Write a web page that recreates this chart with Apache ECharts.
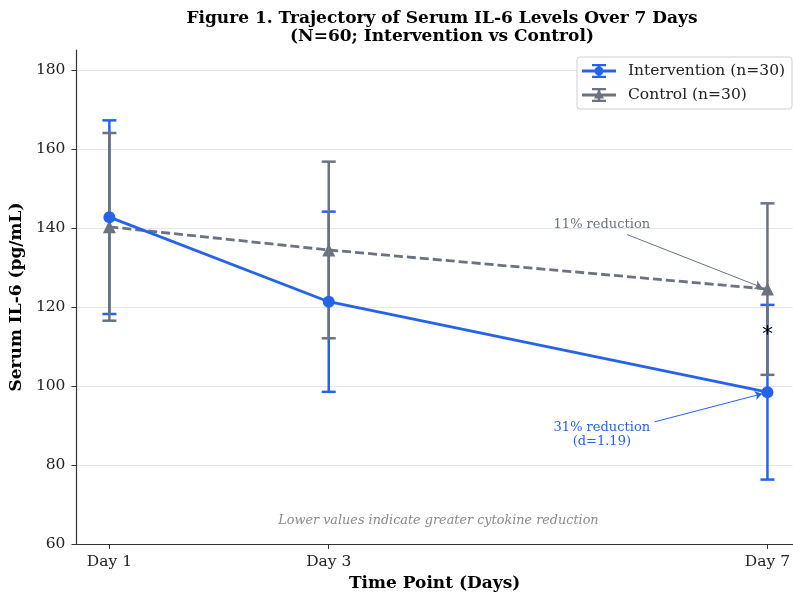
<!DOCTYPE html>
<html>
<head>
<meta charset="utf-8">
<script src="https://cdn.jsdelivr.net/npm/echarts@6/dist/echarts.min.js"></script>
<style>html,body{margin:0;padding:0;background:#fff}#chart{width:793px;height:597px}</style>
</head>
<body>
<div id="chart"></div>
<script>
// ---- data ----
const days = [1, 3, 7];
const dayLabels = ['Day 1', 'Day 3', 'Day 7'];
const yTicks = [60, 80, 100, 120, 140, 160, 180];
const interventionMean = [142.7, 121.3, 98.4];
const interventionSD = [24.5, 22.8, 22.1];
const controlMean = [140.25, 134.4, 124.5];
const controlSD = [23.75, 22.35, 21.7];
const interventionName = 'Intervention (n=30)';
const controlName = 'Control (n=30)';

const BLUE = '#2563eb';
const GRAY = '#6b7280';
const FONT = 'DejaVu Serif';

const pts = (m) => days.map((d, i) => [d, m[i]]);
const bars = (m, s) => days.map((d, i) => [d, m[i] - s[i], m[i] + s[i]]);

function errRender(color) {
  return function (params, api) {
    const x = api.value(0);
    const lo = api.coord([x, api.value(1)]);
    const hi = api.coord([x, api.value(2)]);
    const cw = 7;
    const st = { stroke: color, lineWidth: 2.5 };
    return {
      type: 'group',
      children: [
        { type: 'line', shape: { x1: lo[0], y1: lo[1], x2: hi[0], y2: hi[1] }, style: st },
        { type: 'line', shape: { x1: lo[0] - cw, y1: lo[1], x2: lo[0] + cw, y2: lo[1] }, style: st },
        { type: 'line', shape: { x1: hi[0] - cw, y1: hi[1], x2: hi[0] + cw, y2: hi[1] }, style: st }
      ]
    };
  };
}

const iconBase = 'M0 5.6 H34 V8.4 H0 Z M15.7 0 H18.3 V14 H15.7 Z M10 0 H24 V2.2 H10 Z M10 11.8 H24 V14 H10 Z ';
const iconCircle = 'path://' + iconBase + 'M12.5 7 A4.5 4.5 0 1 1 21.5 7 A4.5 4.5 0 1 1 12.5 7 Z';
const iconTri = 'path://' + iconBase + 'M17 1.5 L22 10.5 L12 10.5 Z';

const chart = echarts.init(document.getElementById('chart'), null, { renderer: 'canvas' });
chart.setOption({
  animation: false,
  backgroundColor: '#ffffff',
  textStyle: { fontFamily: FONT },
  title: {
    text: 'Figure 1. Trajectory of Serum IL-6 Levels Over 7 Days\n(N=60; Intervention vs Control)',
    left: 437, top: 4, textAlign: 'center',
    textStyle: { fontFamily: FONT, fontWeight: 'bold', fontSize: 17, lineHeight: 18.5, color: '#000' }
  },
  legend: {
    orient: 'vertical',
    left: 577, top: 57,
    padding: [6, 7, 6, 5],
    itemGap: 8,
    itemWidth: 34, itemHeight: 14,
    backgroundColor: '#ffffff',
    borderColor: '#cfcfcf', borderWidth: 1, borderRadius: 3,
    itemStyle: { borderWidth: 0 },
    textStyle: { fontFamily: FONT, fontSize: 15.5, color: '#222', lineHeight: 16, padding: [0, 0, 0, 7] },
    data: [
      { name: interventionName, icon: iconCircle, itemStyle: { color: BLUE } },
      { name: controlName, icon: iconTri, itemStyle: { color: GRAY } }
    ]
  },
  grid: { left: 75, right: 0, top: 50, bottom: 51, containLabel: false },
  xAxis: {
    type: 'value', min: 0.7, max: 7.23,
    name: 'Time Point (Days)', nameLocation: 'middle', nameGap: 31,
    nameTextStyle: { fontFamily: FONT, fontWeight: 'bold', fontSize: 17, color: '#000' },
    axisLine: { show: true, lineStyle: { color: '#333', width: 1.2 } },
    axisTick: { show: true, length: 5, lineStyle: { color: '#333' }, customValues: days },
    axisLabel: {
      customValues: days, margin: 10, fontFamily: FONT, fontSize: 15.5, color: '#222',
      formatter: (v) => { const i = days.indexOf(v); return i >= 0 ? dayLabels[i] : ''; }
    },
    splitLine: { show: false }
  },
  yAxis: {
    type: 'value', min: 60, max: 185,
    name: 'Serum IL-6 (pg/mL)', nameLocation: 'middle', nameGap: 44,
    nameTextStyle: { fontFamily: FONT, fontWeight: 'bold', fontSize: 17, color: '#000' },
    axisLine: { show: true, lineStyle: { color: '#333', width: 1.2 } },
    axisTick: { show: true, length: 5, lineStyle: { color: '#333' }, customValues: yTicks },
    axisLabel: {
      customValues: yTicks, margin: 11, fontFamily: FONT, fontSize: 15.5, color: '#222',
      formatter: (v) => (yTicks.indexOf(v) >= 0 ? String(v) : '')
    },
    splitLine: { show: true, lineStyle: { color: '#e6e6e6', width: 1 } }
  },
  series: [
    {
      type: 'custom', name: 'intervention-err', silent: true, z: 2,
      renderItem: errRender(BLUE), encode: { x: 0, y: [1, 2] },
      data: bars(interventionMean, interventionSD)
    },
    {
      type: 'custom', name: 'control-err', silent: true, z: 3,
      renderItem: errRender(GRAY), encode: { x: 0, y: [1, 2] },
      data: bars(controlMean, controlSD)
    },
    {
      type: 'line', name: controlName, z: 4,
      data: pts(controlMean),
      symbol: 'triangle', symbolSize: 13, showSymbol: true,
      itemStyle: { color: GRAY },
      lineStyle: { color: GRAY, width: 2.8, type: [9, 4] },
      markLine: {
        silent: true, symbol: ['none', 'arrow'], symbolSize: 7,
        label: { show: false },
        lineStyle: { color: GRAY, width: 1, type: 'solid' },
        data: [[{ coord: [5.72, 138.3] }, { coord: [6.95, 124.9] }]]
      },
      markPoint: {
        silent: true, symbol: 'circle', symbolSize: 1,
        itemStyle: { color: 'rgba(0,0,0,0)' },
        data: [
          { coord: [5.49, 140.8], label: { show: true, position: 'inside', formatter: '11% reduction', fontFamily: FONT, fontSize: 13, color: GRAY } },
          { coord: [7, 112.9], label: { show: true, position: 'inside', formatter: '*', fontFamily: 'DejaVu Sans', fontSize: 22, color: '#000' } }
        ]
      }
    },
    {
      type: 'line', name: interventionName, z: 5,
      data: pts(interventionMean),
      symbol: 'circle', symbolSize: 12, showSymbol: true,
      itemStyle: { color: BLUE },
      lineStyle: { color: BLUE, width: 2.8 },
      markLine: {
        silent: true, symbol: ['none', 'arrow'], symbolSize: 7,
        label: { show: false },
        lineStyle: { color: BLUE, width: 1, type: 'solid' },
        data: [[{ coord: [5.97, 90.9] }, { coord: [6.95, 98.0] }]]
      },
      markPoint: {
        silent: true, symbol: 'circle', symbolSize: 1,
        itemStyle: { color: 'rgba(0,0,0,0)' },
        data: [
          { coord: [5.49, 87.7], label: { show: true, position: 'inside', formatter: '31% reduction\n(d=1.19)', fontFamily: FONT, fontSize: 13, lineHeight: 14.5, color: BLUE } },
          { coord: [4.0, 65.9], label: { show: true, position: 'inside', formatter: 'Lower values indicate greater cytokine reduction', fontFamily: FONT, fontStyle: 'italic', fontSize: 12.8, color: '#8a8a8a' } }
        ]
      }
    }
  ]
});
</script>
</body>
</html>
